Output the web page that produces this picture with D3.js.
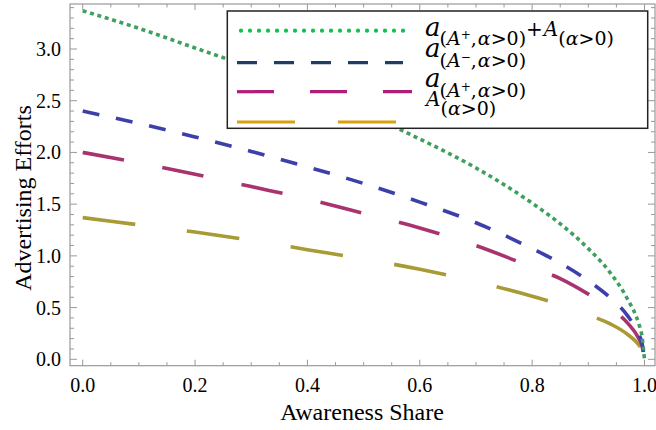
<!DOCTYPE html>
<html><head><meta charset="utf-8">
<script src="https://cdn.jsdelivr.net/npm/d3@7/dist/d3.min.js"></script>
<style>body{margin:0;background:#fff}svg{display:block}</style>
</head><body>
<script>
// ---- data ----
const share = [0, 0.1, 0.2, 0.3, 0.4, 0.5, 0.6, 0.7, 0.8, 0.85, 0.9, 0.94, 0.97, 0.99, 0.995, 1.0];
const totalEffort = [3.37, 3.20, 3.01, 2.82, 2.61, 2.38, 2.13, 1.85, 1.51, 1.31, 1.07, 0.83, 0.58, 0.34, 0.24, 0.0];
const effortMinus = [2.40, 2.28, 2.15, 2.01, 1.86, 1.70, 1.52, 1.32, 1.07, 0.93, 0.76, 0.59, 0.42, 0.24, 0.17, 0.0];
const effortPlus  = [2.00, 1.90, 1.79, 1.67, 1.55, 1.41, 1.27, 1.10, 0.89, 0.78, 0.63, 0.49, 0.35, 0.20, 0.14, 0.0];
const awareEffort = [1.37, 1.30, 1.23, 1.15, 1.06, 0.97, 0.87, 0.75, 0.61, 0.53, 0.43, 0.34, 0.24, 0.14, 0.10, 0.07];
const xTicks = [0, 0.2, 0.4, 0.6, 0.8, 1.0];
const yTicks = [0, 0.5, 1.0, 1.5, 2.0, 2.5, 3.0];
const xLabel = "Awareness Share";
const yLabel = "Advertising Efforts";

const svg = d3.select("body").append("svg").attr("width", 656).attr("height", 430);
const L = 70, R = 655, T = 4, B = 365.7;
const x = d3.scaleLinear().domain([0, 1]).range([82.7, 644.5]);
const y = d3.scaleLinear().domain([0, 3]).range([359.3, 49.0]);

function txt(sel, size, fam) {
  return sel.style("font-family", fam || "Liberation Serif").style("font-size", size + "px").attr("fill", "#000");
}

svg.append("rect").attr("x", L).attr("y", T).attr("width", R - L).attr("height", B - T)
  .attr("fill", "none").attr("stroke", "#999").attr("stroke-width", 1.2);

const tk = svg.append("g").attr("stroke", "#999").attr("stroke-width", 1);
d3.range(0, 1.0001, 0.05).forEach(v => {
  const len = xTicks.some(t => Math.abs(t - v) < 1e-6) ? 6 : 3.5;
  tk.append("line").attr("x1", x(v)).attr("x2", x(v)).attr("y1", B).attr("y2", B - len);
  tk.append("line").attr("x1", x(v)).attr("x2", x(v)).attr("y1", T).attr("y2", T + len);
});
d3.range(0, 3.41, 0.1).forEach(v => {
  const len = yTicks.some(t => Math.abs(t - v) < 1e-6) ? 7 : 4;
  tk.append("line").attr("y1", y(v)).attr("y2", y(v)).attr("x1", L).attr("x2", L + len);
  tk.append("line").attr("y1", y(v)).attr("y2", y(v)).attr("x1", R).attr("x2", R - len);
});

xTicks.forEach(d => {
  txt(svg.append("text"), 20).attr("x", x(d)).attr("y", 392).attr("text-anchor", "middle").text(d.toFixed(1));
});
yTicks.forEach(d => {
  txt(svg.append("text"), 20).attr("x", 61).attr("y", y(d) + 7).attr("text-anchor", "end").text(d.toFixed(1));
});

txt(svg.append("text"), 24).attr("x", 362).attr("y", 420).attr("text-anchor", "middle").text(xLabel);
txt(svg.append("text"), 24).attr("transform", "translate(31,198) rotate(-90)").attr("text-anchor", "middle").text(yLabel);

svg.append("clipPath").attr("id", "clip").append("rect")
  .attr("x", L).attr("y", T).attr("width", R - L).attr("height", B - T);
const line = d3.line().x(d => x(d[0])).y(d => y(d[1])).curve(d3.curveMonotoneX);
const series = [
  { v: awareEffort, color: "#a89a35", dash: "53,52" },
  { v: effortPlus,  color: "#a8336e", dash: "42,39" },
  { v: effortMinus, color: "#3d3faa", dash: "17,17" },
  { v: totalEffort, color: "#3f9f5f", dash: "4,3.7" }
];
const g = svg.append("g").attr("clip-path", "url(#clip)");
series.forEach(s => {
  g.append("path").datum(share.map((d, i) => [d, s.v[i]]))
    .attr("d", line).attr("fill", "none").attr("stroke", s.color)
    .attr("stroke-width", 3.6).attr("stroke-dasharray", s.dash);
});

svg.append("rect").attr("x", 227.3).attr("y", 11).attr("width", 420.4).attr("height", 117.3)
  .attr("fill", "#fff").attr("stroke", "#222").attr("stroke-width", 1.5);
[
  { y: 30.7, color: "#10c050", dash: "0,9", cap: "round", w: 4.2, x1: 241, x2: 408 },
  { y: 62.7, color: "#1f3d66", dash: "20,17", cap: "butt", w: 3.2, x1: 237, x2: 403 },
  { y: 91.7, color: "#b01e78", dash: "37,36", cap: "butt", w: 3.2, x1: 237, x2: 412 },
  { y: 122,  color: "#d9a010", dash: "58,43", cap: "butt", w: 3.2, x1: 237, x2: 396 }
].forEach(l => {
  svg.append("line").attr("x1", l.x1).attr("x2", l.x2).attr("y1", l.y).attr("y2", l.y)
    .attr("stroke", l.color).attr("stroke-width", l.w).attr("stroke-dasharray", l.dash)
    .attr("stroke-linecap", l.cap);
});

// each piece is its own text element, placed left to right
const MF = "DejaVu Serif";
function mathLabel(xp, yb, subOff, parts) {
  let cx = xp;
  parts.forEach(p => {
    const off = p.lvl === 1 ? subOff : p.lvl === 2 ? subOff - 6 : 0;
    const t = txt(svg.append("text"), p.s, MF).attr("x", cx).attr("y", yb + off).text(p.t);
    if (p.i) t.style("font-style", "italic");
    cx += t.node().getComputedTextLength() + (p.gap || 0);
  });
}
const sub = 19, big = 26, cap = 20, sup = 12;
function subA(sign) {
  return [
    { t: "(", s: sub, lvl: 1 }, { t: "A", s: sub, i: true, lvl: 1 }, { t: sign, s: sup, lvl: 2 },
    { t: ",", s: sub, lvl: 1, gap: 1 }, { t: "α", s: sub, i: true, lvl: 1 }, { t: ">0)", s: sub, lvl: 1 }
  ];
}
const subAlpha = [{ t: "(", s: sub, lvl: 1 }, { t: "α", s: sub, i: true, lvl: 1 }, { t: ">0)", s: sub, lvl: 1 }];
mathLabel(425, 35.5, 9, [{ t: "a", s: big, i: true, lvl: 0, gap: -1 }].concat(subA("+"),
  [{ t: "+", s: 20, lvl: 0, gap: 1 }, { t: "A", s: cap, i: true, lvl: 0, gap: 0 }], subAlpha));
mathLabel(425, 57, 9.5, [{ t: "a", s: big, i: true, lvl: 0, gap: -1 }].concat(subA("−")));
mathLabel(425, 87, 10, [{ t: "a", s: big, i: true, lvl: 0, gap: -1 }].concat(subA("+")));
mathLabel(426, 105.5, 9, [{ t: "A", s: cap, i: true, lvl: 0 }].concat(subAlpha));
</script>
</body></html>
